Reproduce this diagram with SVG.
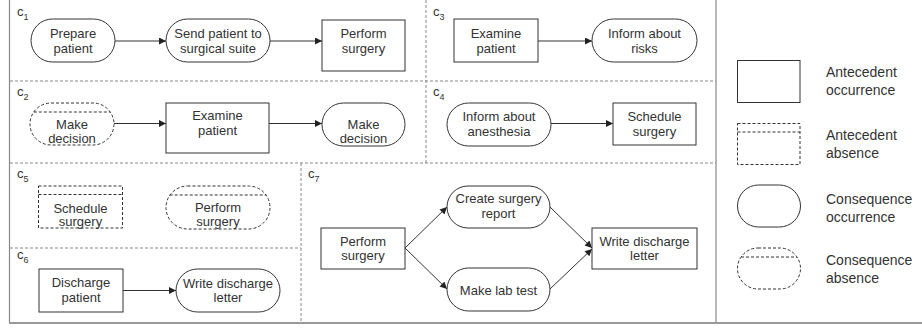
<svg xmlns="http://www.w3.org/2000/svg" width="922" height="336" viewBox="0 0 922 336">
<style>
text{font-family:"Liberation Sans",Arial,sans-serif;font-size:13px;fill:#333;text-anchor:middle}
.lbl{text-anchor:start}
.sub{font-size:9px}
.leg{text-anchor:start;font-size:14px}
.n{fill:#fff;stroke:#333;stroke-width:1}
.d{fill:#fff;stroke:#333;stroke-width:1;stroke-dasharray:3,2}
.dl{stroke:#333;stroke-width:1;stroke-dasharray:3,2;fill:none}
.fr{stroke:#888;stroke-width:1.2;fill:none}
.fd{stroke:#888;stroke-width:1;stroke-dasharray:3,2;fill:none}
.e{stroke:#333;stroke-width:1;fill:none;marker-end:url(#ah)}
</style>
<defs>
<marker id="ah" viewBox="0 0 10 10" refX="10" refY="5" markerWidth="9" markerHeight="7" markerUnits="userSpaceOnUse" orient="auto">
<path d="M0,0 L10,5 L0,10 z" fill="#222"/>
</marker>
</defs>
<rect width="922" height="336" fill="#fff"/>
<g id="frame">
<line class="fr" x1="9.5" y1="0" x2="9.5" y2="323"/>
<line class="fr" x1="716" y1="0" x2="716" y2="323"/>
<line x1="9" y1="323" x2="922" y2="323" stroke="#999" stroke-width="2"/>
<line class="fd" x1="10" y1="81" x2="716" y2="81"/>
<line class="fd" x1="10" y1="163" x2="716" y2="163"/>
<line class="fd" x1="426" y1="0" x2="426" y2="163"/>
<line class="fd" x1="301" y1="163" x2="301" y2="322"/>
<line class="fd" x1="10" y1="248" x2="301" y2="248"/>
</g>
<g id="labels">
<text class="lbl" x="17" y="16">c<tspan class="sub" dy="4">1</tspan></text>
<text class="lbl" x="17" y="96">c<tspan class="sub" dy="4">2</tspan></text>
<text class="lbl" x="433" y="16">c<tspan class="sub" dy="4">3</tspan></text>
<text class="lbl" x="433" y="96">c<tspan class="sub" dy="4">4</tspan></text>
<text class="lbl" x="17" y="178">c<tspan class="sub" dy="4">5</tspan></text>
<text class="lbl" x="17" y="259">c<tspan class="sub" dy="4">6</tspan></text>
<text class="lbl" x="308" y="178">c<tspan class="sub" dy="4">7</tspan></text>
</g>
<g id="connectors">
<line class="e" x1="115" y1="41" x2="166" y2="41"/>
<line class="e" x1="270" y1="41" x2="322" y2="41"/>
<line class="e" x1="538" y1="41" x2="592" y2="41"/>
<line class="e" x1="114" y1="123.5" x2="166" y2="123.5"/>
<line class="e" x1="269" y1="123.5" x2="322" y2="123.5"/>
<line class="e" x1="551" y1="123.5" x2="613" y2="123.5"/>
<line class="e" x1="123" y1="290.5" x2="176" y2="290.5"/>
<line class="e" x1="405" y1="248" x2="447" y2="207"/>
<line class="e" x1="405" y1="248" x2="447" y2="289"/>
<line class="e" x1="550" y1="207" x2="592" y2="248"/>
<line class="e" x1="550" y1="289" x2="592" y2="249"/>
</g>
<g id="c1-prepare"><rect class="n" x="31" y="19" width="84" height="43" rx="21.5"/><text x="73" y="38">Prepare</text><text x="73" y="53">patient</text></g>
<g id="c1-send"><rect class="n" x="166" y="19" width="104" height="43" rx="21.5"/><text x="218" y="38">Send patient to</text><text x="218" y="53">surgical suite</text></g>
<g id="c1-perform"><rect class="n" x="322" y="20" width="83" height="51"/><text x="363.5" y="38">Perform</text><text x="363.5" y="53">surgery</text></g>
<g id="c3-examine"><rect class="n" x="454" y="19" width="84" height="43"/><text x="496" y="38">Examine</text><text x="496" y="53">patient</text></g>
<g id="c3-inform"><rect class="n" x="592" y="19" width="105" height="43" rx="21.5"/><text x="644.5" y="38">Inform about</text><text x="644.5" y="53">risks</text></g>
<g id="c2-decision-abs"><rect class="d" x="30" y="103" width="84" height="42" rx="21"/><line class="dl" x1="33.8" y1="112" x2="110.2" y2="112"/><text x="72" y="129">Make</text><text x="72" y="143">decision</text></g>
<g id="c2-examine"><rect class="n" x="166" y="103" width="103" height="50"/><text x="217.5" y="120">Examine</text><text x="217.5" y="135">patient</text></g>
<g id="c2-decision"><rect class="n" x="322" y="103" width="83" height="43" rx="21.5"/><text x="363.5" y="129">Make</text><text x="363.5" y="143">decision</text></g>
<g id="c4-inform"><rect class="n" x="447" y="103" width="104" height="43" rx="21.5"/><text x="499" y="121">Inform about</text><text x="499" y="136">anesthesia</text></g>
<g id="c4-schedule"><rect class="n" x="613" y="103" width="83" height="42"/><text x="654.5" y="121">Schedule</text><text x="654.5" y="136">surgery</text></g>
<g id="c5-schedule-abs"><rect class="d" x="38.5" y="186" width="84" height="42"/><line class="dl" x1="38.5" y1="194.5" x2="122.5" y2="194.5"/><text x="80.5" y="212.5">Schedule</text><text x="80.5" y="226">surgery</text></g>
<g id="c5-perform-abs"><rect class="d" x="166" y="186" width="104" height="43" rx="21.5"/><line class="dl" x1="169.7" y1="195" x2="266.3" y2="195"/><text x="218" y="212">Perform</text><text x="218" y="226">surgery</text></g>
<g id="c6-discharge"><rect class="n" x="39" y="269" width="84" height="43"/><text x="81" y="287">Discharge</text><text x="81" y="302">patient</text></g>
<g id="c6-letter"><rect class="n" x="176" y="269" width="104" height="43" rx="21.5"/><text x="228" y="287.5">Write discharge</text><text x="228" y="302">letter</text></g>
<g id="c7-perform"><rect class="n" x="321" y="228" width="84" height="41"/><text x="363" y="245.5">Perform</text><text x="363" y="260">surgery</text></g>
<g id="c7-report"><rect class="n" x="447" y="186" width="103" height="42" rx="21"/><text x="498.5" y="203">Create surgery</text><text x="498.5" y="217.5">report</text></g>
<g id="c7-lab"><rect class="n" x="447" y="268" width="103" height="43" rx="21.5"/><text x="498.5" y="294.5">Make lab test</text></g>
<g id="c7-letter"><rect class="n" x="592" y="228" width="105" height="41"/><text x="644.5" y="245.5">Write discharge</text><text x="644.5" y="260">letter</text></g>
<g id="legend">
<rect class="n" x="737.5" y="60.5" width="62.5" height="42"/>
<text class="leg" x="826" y="77">Antecedent</text><text class="leg" x="826" y="95">occurrence</text>
<rect class="d" x="737.5" y="123.5" width="62.5" height="41"/><line class="dl" x1="737.5" y1="132" x2="800" y2="132"/>
<text class="leg" x="826" y="140">Antecedent</text><text class="leg" x="826" y="158">absence</text>
<rect class="n" x="737.5" y="185" width="63" height="42" rx="21"/>
<text class="leg" x="826" y="203.5">Consequence</text><text class="leg" x="826" y="222">occurrence</text>
<rect class="d" x="737.5" y="248" width="63" height="41" rx="20.5"/><line class="dl" x1="741" y1="257" x2="797" y2="257"/>
<text class="leg" x="826" y="265">Consequence</text><text class="leg" x="826" y="283">absence</text>
</g>
</svg>
